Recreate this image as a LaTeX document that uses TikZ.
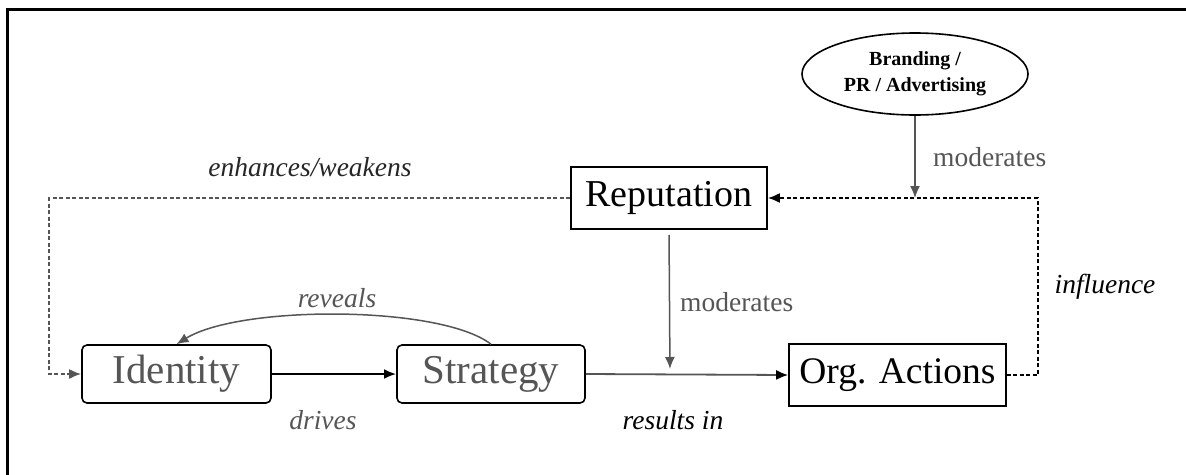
\documentclass[tikz,border=0pt]{standalone}
\usepackage{fontspec}
\setmainfont{Liberation Serif}
\usepackage{tikz}
\usetikzlibrary{shapes.geometric, arrows.meta, positioning}
\definecolor{figgray}{RGB}{85,85,85}

\begin{document}
\begin{tikzpicture}[
    x=1pt, y=-1pt,
    box/.style={rectangle, draw, line width=1.6pt, inner sep=0pt, text=black},
    softbox/.style={rectangle, rounded corners=5pt, draw, line width=1.6pt, inner sep=0pt, text=figgray},
    lbl/.style={inner sep=0pt, font=\fontsize{27.5}{30}\selectfont\itshape},
    arrow/.style={-{Latex[length=12pt, width=10pt]}, line width=1.5pt},
    loop/.style={arrow, line width=2pt, dash pattern=on 4pt off 2.5pt}
]
    \useasboundingbox (0,0) rectangle (1186,474);
    % frame
    \draw[line width=3pt] (7,480) -- (7,9) -- (1192,9);

    % nodes
    \node[box, minimum width=196pt, minimum height=62pt, font=\fontsize{38}{40}\selectfont] (rep) at (669,198) {Reputation};
    \node[ellipse, draw, line width=1.6pt, minimum width=226pt, minimum height=82pt, inner sep=0pt, align=center,
          font=\fontsize{20}{26}\selectfont\bfseries] (brand) at (915,74) {Branding /\\PR / Advertising};
    \node[softbox, minimum width=189pt, minimum height=58pt, font=\fontsize{41}{44}\selectfont] (ident) at (176.5,374) {Identity};
    \node[softbox, minimum width=188pt, minimum height=58pt, font=\fontsize{41}{44}\selectfont] (strat) at (491,374) {Strategy};
    \node[box, minimum width=217pt, minimum height=62pt, font=\fontsize{37.5}{40}\selectfont] (org) at (897.5,375) {Org. Actions};

    \coordinate (onresult) at (670,375);
    \coordinate (oninfl) at (915,198);

    % main chain
    \draw[arrow, line width=2.5pt] (ident) -- (strat);
    \draw[-{Latex[length=12pt, width=10pt, color=black]}, line width=1.8pt, draw=figgray] (strat.east) -- (org.west);
    \draw[arrow, draw=figgray] (strat.north) .. controls (440,305) and (240,305) .. (ident.north);

    % moderators
    \draw[arrow, draw=figgray, shorten <=5pt, shorten >=6pt] (rep.south) -- (onresult);
    \draw[arrow, draw=figgray] (brand.south) -- (oninfl);

    % feedback loops
    \draw[loop] (org.east) -- ++(31,0) |- (rep.east);
    \draw[loop, draw=figgray] (rep.west) -- ++(-521,0) |- (ident.west);

    % labels
    \node[lbl, text=black!85] (lenh) at (310,167) {enhances/weakens};
    \node[lbl, text=figgray] (lrev) at (337,298) {reveals};
    \node[lbl, text=figgray] (ldrv) at (323,420) {drives};
    \node[lbl] (lres) at (673,420) {results in};
    \node[lbl] (linf) at (1105,287) {influence};
    \node[lbl, font=\fontsize{27.5}{30}\selectfont, text=figgray, anchor=west] (lmod1) at (680,302) {moderates};
    \node[lbl, font=\fontsize{27.5}{30}\selectfont, text=figgray, anchor=west] (lmod2) at (933,157) {moderates};
\end{tikzpicture}
\end{document}
